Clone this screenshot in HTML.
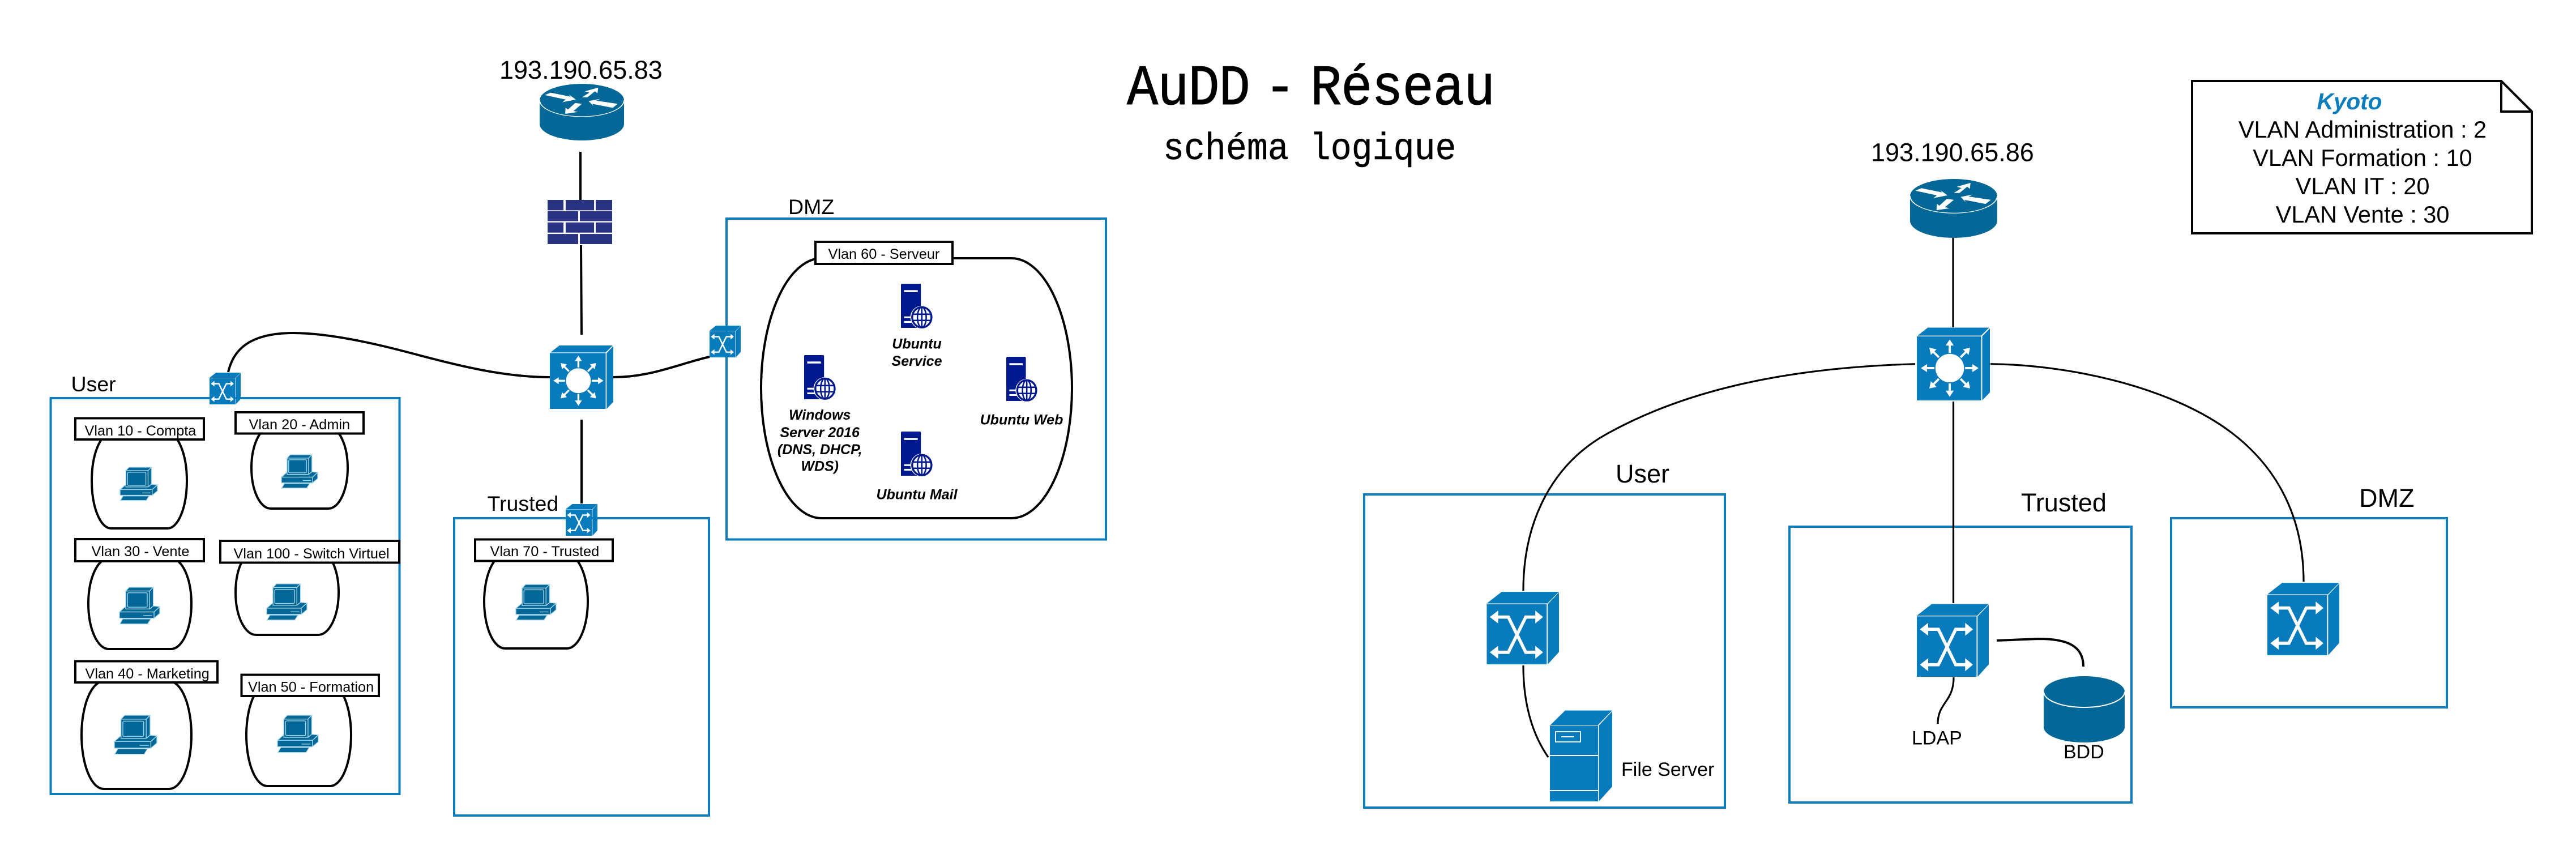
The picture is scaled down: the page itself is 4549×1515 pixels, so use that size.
<!DOCTYPE html>
<html lang="fr"><head><meta charset="utf-8"><title>AuDD - Réseau</title>
<style>
html,body{margin:0;padding:0;background:#fff;width:4549px;height:1515px;overflow:hidden}
svg{display:block}
text{font-family:"Liberation Sans",sans-serif;fill:#000}
.m{font-family:"Liberation Mono",monospace}
.l{font-size:25.3px}
.b{font-size:25px;font-weight:bold;font-style:italic;text-anchor:middle}
.z{font-size:37.500px}
.y{font-size:45px}
.k{font-size:41.500px;text-anchor:middle}
.s{font-size:34px}
.box{fill:none;stroke:#0E7DBD;stroke-width:4}
.lab{fill:#fff;stroke:#000;stroke-width:4}
.cl{fill:#fff;stroke:#000;stroke-width:4}
.w{fill:none;stroke:#000;stroke-width:4}
.w3{fill:none;stroke:#000;stroke-width:3.2}
</style></head><body>
<svg xmlns="http://www.w3.org/2000/svg" width="4549" height="1515" viewBox="0 0 4549 1515">
<defs>
<g id="sw">
<rect x="0" y="17" width="83" height="83" fill="#087BBC"/>
<polygon points="0,16 20.7,0 100,0 84,16" fill="#087BBC"/>
<polygon points="84.5,17 100,1 100,83 84.5,100" fill="#087BBC"/>
<g fill="none" stroke="#fff" stroke-width="4.4">
<polyline points="15,34.8 29.9,34.8 54,83.4 68,83.4"/>
<polyline points="15,83.4 29.9,83.4 54,34.8 68,34.8"/>
</g>
<g fill="#fff">
<polygon points="4.2,34.8 15.8,25.9 15.8,43.7"/>
<polygon points="78,34.8 67.2,25.9 67.2,43.7"/>
<polygon points="4.2,83.4 15.8,74.5 15.8,92.3"/>
<polygon points="78,83.4 67.2,74.5 67.2,92.3"/>
</g>
</g>
<g id="ar"><rect x="21" y="-1.5" width="11" height="3" fill="#fff"/><polygon points="31,-5.5 39.5,0 31,5.5" fill="#fff"/></g>
<g id="l3">
<rect x="0" y="12" width="88" height="88" fill="#087BBC"/>
<polygon points="1,11 15,0 99,0 88,11" fill="#087BBC"/>
<polygon points="89.5,12 100,1 100,89 89.5,100" fill="#087BBC"/>
<g transform="translate(45,55.6)">
<circle r="19.6" fill="#fff"/>
<use href="#ar"/><use href="#ar" transform="rotate(45)"/><use href="#ar" transform="rotate(90)"/><use href="#ar" transform="rotate(135)"/>
<use href="#ar" transform="rotate(180)"/><use href="#ar" transform="rotate(225)"/><use href="#ar" transform="rotate(270)"/><use href="#ar" transform="rotate(315)"/>
</g>
</g>
<g id="rt">
<path d="M0,29V71A50,29 0 0 0 100,71V29A50,29 0 0 0 0,29Z" fill="#036897"/>
<path d="M0,29A50,29 0 0 0 100,29" fill="none" stroke="#fff" stroke-width="1.2"/>
<g fill="#fff">
<polygon points="6.1,19.9 13,15.6 36.8,22.8 34.6,18.9 42.9,27.8 27,32.5 30.7,27.8"/>
<polygon points="50.2,23.8 58.9,15.6 53.7,13.2 69.3,6.6 68.6,16.6 65.4,13.2 56.7,23.8"/>
<polygon points="30.3,53 30.7,42 33.5,45.4 42.2,33.8 50.2,35.4 40,48 45.5,49.7"/>
<polygon points="92.6,35.4 86.6,42.4 62.3,35.4 63.9,39.4 58,30.5 71.9,26.5 67,29.8"/>
</g>
</g>
<g id="fw" fill="#2A3282">
<rect x="0" y="0" width="24.6" height="23.5"/><rect x="28" y="0" width="44" height="23.5"/><rect x="74.6" y="0" width="25.4" height="23.5"/>
<rect x="0" y="25.5" width="47.4" height="22.5"/><rect x="50" y="25.5" width="50" height="22.5"/>
<rect x="0" y="51" width="24.6" height="23"/><rect x="28" y="51" width="44" height="23"/><rect x="74.6" y="51" width="25.4" height="23"/>
<rect x="0" y="77" width="47.4" height="23"/><rect x="50" y="77" width="50" height="23"/>
</g>
<g id="pc" fill="#036897" stroke="#a8d8ea" stroke-width="1.3">
<rect x="15.5" y="10" width="59.5" height="49" vector-effect="non-scaling-stroke"/>
<polygon points="15.5,10 24,0 84,0 75,10" vector-effect="non-scaling-stroke"/>
<polygon points="75,10 84,0 84,51 75,59" vector-effect="non-scaling-stroke"/>
<rect x="20" y="15" width="49" height="39" rx="3" ry="3" vector-effect="non-scaling-stroke"/>
<polygon points="0,67 15.5,52 15.5,59 75,59 84,51 100,52.5 86,67" vector-effect="non-scaling-stroke"/>
<rect x="0" y="67" width="86" height="17" vector-effect="non-scaling-stroke"/>
<polygon points="86,67 100,53 100,71 86,84" vector-effect="non-scaling-stroke"/>
<polygon points="8,86 78,86 70,99.5 1,99.5" vector-effect="non-scaling-stroke"/>
<line x1="59" y1="77" x2="81" y2="77" vector-effect="non-scaling-stroke"/>
</g>
<g id="srv">
<path d="M0,3Q0,0 3,0H61Q64,0 64,3V100H0Z" fill="#00188D"/>
<rect x="10" y="14.5" width="44" height="4.5" fill="#fff"/>
<rect x="10" y="74" width="30" height="4" fill="#fff"/>
<rect x="10" y="84.5" width="30" height="4" fill="#fff"/>
<ellipse cx="67" cy="76" rx="37" ry="26" fill="#fff"/>
<g fill="none" stroke="#00188D" stroke-width="2.6">
<ellipse cx="67" cy="76" rx="31" ry="23" vector-effect="non-scaling-stroke" stroke-width="3.4"/>
<ellipse cx="67" cy="76" rx="14" ry="23" vector-effect="non-scaling-stroke"/>
<line x1="67" y1="53" x2="67" y2="99" vector-effect="non-scaling-stroke"/>
<line x1="38" y1="69" x2="96" y2="69" vector-effect="non-scaling-stroke"/>
<line x1="38" y1="83" x2="96" y2="83" vector-effect="non-scaling-stroke"/>
</g>
</g>
</defs>

<rect width="4549" height="1515" fill="#fff"/>

<!-- Title -->
<text class="m" font-size="92" stroke="#000" stroke-width="1" letter-spacing="-1" transform="translate(0,184) scale(1,1.1)"><tspan x="1990">AuDD</tspan> <tspan x="2233">-</tspan> <tspan x="2314">Réseau</tspan></text>
<text class="m" font-size="61.6" stroke="#000" stroke-width=".5" transform="translate(2054,281) scale(1,1.08)">schéma logique</text>

<!-- Boxes -->
<rect class="box" x="89.5" y="703" width="616" height="699"/>
<rect class="box" x="1283" y="386" width="670" height="566.5"/>
<rect class="box" x="802" y="915" width="450" height="525"/>
<rect class="box" x="2409" y="873" width="637" height="553"/>
<rect class="box" x="3160" y="930" width="604" height="487"/>
<rect class="box" x="3834" y="915" width="487" height="334"/>

<!-- Left connectors -->
<path class="w" d="M1025 268V353M1026 433L1027 591M1027 741V889"/>
<path class="w" d="M403 657C412 618 440 588 518 588C580 588 660 606 724 623C790 640 880 666 971 666"/>
<path class="w" d="M1083 666C1150 666 1200 642 1253 630"/>

<!-- Right connectors -->
<path class="w3" d="M3449 420V578M3449.500 709V1065"/>
<path class="w3" d="M3382 642.700C3200 648 3000 675 2836 767C2745 818 2690 915 2690 1043"/>
<path class="w3" d="M3515 642.700C3650 644 3815 680 3921 750C4010 809 4068 900 4068 1027"/>
<path class="w3" d="M2690 1175C2690 1240 2705 1295 2734 1337"/>
<path class="w3" d="M3450 1196C3450 1240 3422 1240 3422 1278"/>
<path class="w" d="M3526 1131L3600 1128C3650 1128 3679 1140 3679 1177"/>

<!-- Clouds -->
<path class="cl" d="M1451 456H1786A107 229.500 0 0 1 1893 685.500A107 229.500 0 0 1 1786 915H1451A107 229.500 0 0 1 1344 685.500A107 229.500 0 0 1 1451 456Z"/>
<path class="cl" d="M196 765H296A34 84 0 0 1 330 849A34 84 0 0 1 296 933H196A34 84 0 0 1 162 849A34 84 0 0 1 196 765Z"/>
<path class="cl" d="M478 754H580A34 72 0 0 1 614 826A34 72 0 0 1 580 898H478A34 72 0 0 1 444 826A34 72 0 0 1 478 754Z"/>
<path class="cl" d="M192 986H302A36 80 0 0 1 338 1066A36 80 0 0 1 302 1146H192A36 80 0 0 1 156 1066A36 80 0 0 1 192 986Z"/>
<path class="cl" d="M452 971H562A36 75 0 0 1 598 1046A36 75 0 0 1 562 1121H452A36 75 0 0 1 416 1046A36 75 0 0 1 452 971Z"/>
<path class="cl" d="M183 1203H299A39 95 0 0 1 338 1298A39 95 0 0 1 299 1393H183A39 95 0 0 1 144 1298A39 95 0 0 1 183 1203Z"/>
<path class="cl" d="M472 1208H583A37 90 0 0 1 620 1298A37 90 0 0 1 583 1388H472A37 90 0 0 1 435 1298A37 90 0 0 1 472 1208Z"/>
<path class="cl" d="M892 979H1001A37 83 0 0 1 1038 1062A37 83 0 0 1 1001 1145H892A37 83 0 0 1 855 1062A37 83 0 0 1 892 979Z"/>

<!-- VLAN labels -->
<rect class="lab" x="133" y="738.500" width="227" height="37.500"/><text class="l" x="149.500" y="769">Vlan 10 - Compta</text>
<rect class="lab" x="416" y="728" width="226" height="37.500"/><text class="l" x="439.500" y="758">Vlan 20 - Admin</text>
<rect class="lab" x="133" y="952" width="227" height="39"/><text class="l" x="161.500" y="982">Vlan 30 - Vente</text>
<rect class="lab" x="389" y="955" width="316" height="38.500"/><text class="l" x="412.500" y="986">Vlan 100 - Switch Virtuel</text>
<rect class="lab" x="133" y="1167.500" width="251" height="37.500"/><text class="l" x="150.500" y="1198">Vlan 40 - Marketing</text>
<rect class="lab" x="426.500" y="1191.500" width="242.500" height="37.500"/><text class="l" x="438" y="1221.600">Vlan 50 - Formation</text>
<rect class="lab" x="839" y="952.500" width="243" height="38"/><text class="l" x="865.500" y="982">Vlan 70 - Trusted</text>
<rect class="lab" x="1440" y="427" width="242" height="39"/><text class="l" x="1462.500" y="457">Vlan 60 - Serveur</text>

<!-- PCs -->
<use href="#pc" transform="translate(212,825) scale(.66,.59)"/>
<use href="#pc" transform="translate(497,803) scale(.64,.59)"/>
<use href="#pc" transform="translate(211,1037) scale(.71,.65)"/>
<use href="#pc" transform="translate(471,1031) scale(.71,.64)"/>
<use href="#pc" transform="translate(202,1263) scale(.75,.69)"/>
<use href="#pc" transform="translate(490,1263) scale(.72,.66)"/>
<use href="#pc" transform="translate(911,1032) scale(.71,.63)"/>

<!-- Servers -->
<use href="#srv" transform="translate(1591,501) scale(.55,.78)"/>
<use href="#srv" transform="translate(1420,627) scale(.55,.78)"/>
<use href="#srv" transform="translate(1777,630) scale(.54,.78)"/>
<use href="#srv" transform="translate(1591,762) scale(.55,.78)"/>
<text class="b" x="1619" y="615.700">Ubuntu</text>
<text class="b" x="1619" y="646">Service</text>
<text class="b" x="1447.700" y="741">Windows</text>
<text class="b" x="1447.700" y="772">Server 2016</text>
<text class="b" x="1447.700" y="802">(DNS, DHCP,</text>
<text class="b" x="1447.700" y="831.500">WDS)</text>
<text class="b" x="1804" y="749.600">Ubuntu Web</text>
<text class="b" x="1619" y="881.700">Ubuntu Mail</text>

<!-- Network devices left -->
<use href="#rt" transform="translate(953,148) scale(1.49,1)"/>
<use href="#fw" transform="translate(967,353) scale(1.14,.78)"/>
<use href="#l3" transform="translate(971,610) scale(1.12,1.12)"/>
<use href="#sw" transform="translate(1253,575) scale(.55,.56)"/>
<use href="#sw" transform="translate(370,658) scale(.55,.56)"/>
<use href="#sw" transform="translate(999,890) scale(.56,.56)"/>

<!-- Network devices right -->
<use href="#rt" transform="translate(3373,316) scale(1.54,1.04)"/>
<use href="#l3" transform="translate(3385,578.500) scale(1.29,1.285)"/>
<use href="#sw" transform="translate(2625.500,1045) scale(1.275,1.28)"/>
<use href="#sw" transform="translate(3385,1066.500) scale(1.27,1.285)"/>
<use href="#sw" transform="translate(4004,1029) scale(1.27,1.28)"/>

<!-- File server -->
<g>
<rect x="2737" y="1281" width="85" height="134" fill="#087BBC"/>
<polygon points="2738,1280 2764,1254.500 2847,1254.500 2822,1280" fill="#087BBC"/>
<polygon points="2823.500,1281 2847,1256 2847,1389 2823.500,1415" fill="#087BBC"/>
<line x1="2737" y1="1334" x2="2822" y2="1334" stroke="#fff" stroke-width="2"/>
<line x1="2737" y1="1396" x2="2822" y2="1396" stroke="#fff" stroke-width="2"/>
<rect x="2747" y="1292" width="44" height="18" fill="none" stroke="#fff" stroke-width="1.800"/>
<line x1="2757" y1="1301" x2="2780" y2="1301" stroke="#fff" stroke-width="2"/>
</g>

<!-- BDD -->
<path d="M3609 1221.500V1284A71.500 27 0 0 0 3752 1284V1221.500A71.500 27.500 0 0 0 3609 1221.500Z" fill="#036897"/>
<path d="M3609 1221.500A71.500 27.500 0 0 0 3752 1221.500" fill="none" stroke="#fff" stroke-width="2"/>

<!-- Section labels -->
<text class="y" x="882" y="139">193.190.65.83</text>
<text class="y" x="3304" y="284.700">193.190.65.86</text>
<text class="z" x="1392" y="378">DMZ</text>
<text class="z" x="125.500" y="691">User</text>
<text class="z" x="860.500" y="902">Trusted</text>
<text class="y" x="2853" y="852">User</text>
<text class="y" x="3569" y="903">Trusted</text>
<text class="y" x="4166" y="895">DMZ</text>
<text class="s" x="2863" y="1370">File Server</text>
<text class="s" x="3376" y="1314.500">LDAP</text>
<text class="s" x="3644" y="1339">BDD</text>

<!-- Note -->
<path d="M3871 143H4417L4471 197V412H3871Z" fill="#fff" stroke="#000" stroke-width="4"/>
<path d="M4417 143V197H4471" fill="none" stroke="#000" stroke-width="4"/>
<text x="4149" y="193" font-size="40.600" font-weight="bold" font-style="italic" text-anchor="middle" style="fill:#0E7DBD">Kyoto</text>
<text class="k" x="4172" y="243">VLAN Administration : 2</text>
<text class="k" x="4172" y="293">VLAN Formation : 10</text>
<text class="k" x="4172" y="343">VLAN IT : 20</text>
<text class="k" x="4172" y="393">VLAN Vente : 30</text>
</svg>
</body></html>
